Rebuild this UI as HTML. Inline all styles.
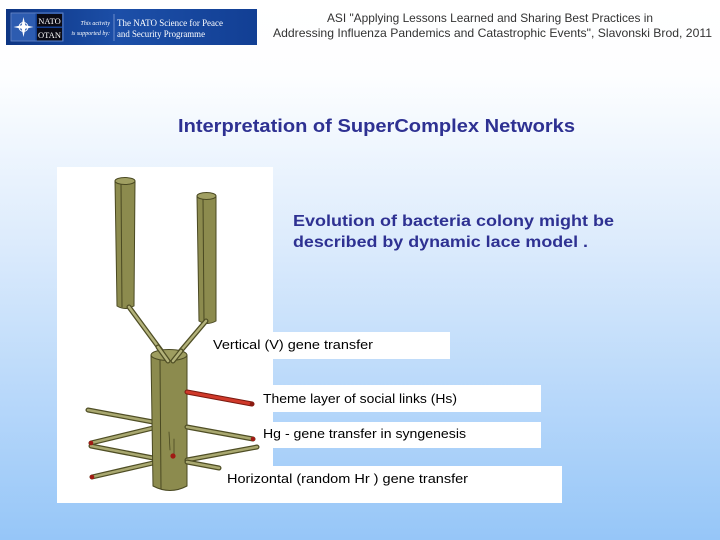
<!DOCTYPE html>
<html><head><meta charset="utf-8"><style>
html,body{margin:0;padding:0;width:720px;height:540px;overflow:hidden;}
svg{display:block;}
</style></head><body>
<svg width="720" height="540" viewBox="0 0 720 540" xmlns="http://www.w3.org/2000/svg">
<defs>
<linearGradient id="bg" x1="0" y1="0" x2="0" y2="1">
<stop offset="0" stop-color="#ffffff"/>
<stop offset="0.14" stop-color="#fdfeff"/>
<stop offset="0.45" stop-color="#dcebfc"/>
<stop offset="1" stop-color="#96c6f8"/>
</linearGradient>
<linearGradient id="ban" x1="0" y1="0" x2="1" y2="0">
<stop offset="0" stop-color="#0d3583"/>
<stop offset="0.45" stop-color="#1c4fa8"/>
<stop offset="1" stop-color="#123f94"/>
</linearGradient>
</defs>
<rect x="0" y="0" width="720" height="540" fill="url(#bg)"/>

<!-- NATO banner -->
<rect x="6" y="9" width="251" height="36" fill="url(#ban)"/>
<rect x="11" y="13" width="52" height="28" fill="none" stroke="#6f8fcf" stroke-width="0.8"/>
<rect x="11.5" y="13.5" width="24" height="27" fill="#2d5cb0"/>
<g transform="translate(23.5,27)" fill="#ffffff">
<polygon points="0,-10 1.8,-1.8 10,0 1.8,1.8 0,10 -1.8,1.8 -10,0 -1.8,-1.8"/>
<circle cx="0" cy="0" r="4.5" fill="none" stroke="#ffffff" stroke-width="1"/>
</g>
<rect x="37" y="14" width="25" height="12.5" fill="#0a0a14"/>
<rect x="37" y="28" width="25" height="12.5" fill="#0a0a14"/>
<text x="49.5" y="24" font-family="Liberation Serif, serif" font-size="8.5" fill="#ffffff" text-anchor="middle">NATO</text>
<text x="49.5" y="38" font-family="Liberation Serif, serif" font-size="8.5" fill="#ffffff" text-anchor="middle">OTAN</text>
<text x="110" y="25" font-family="Liberation Serif, serif" font-size="6" font-style="italic" fill="#ffffff" text-anchor="end">This activity</text>
<text x="110" y="35" font-family="Liberation Serif, serif" font-size="6" font-style="italic" fill="#ffffff" text-anchor="end">is supported by:</text>
<line x1="114" y1="14" x2="114" y2="41" stroke="#8fa8dc" stroke-width="0.7"/>
<text x="117" y="26" font-family="Liberation Serif, serif" font-size="9.5" fill="#ffffff" textLength="106" lengthAdjust="spacingAndGlyphs">The NATO Science for Peace</text>
<text x="117" y="37" font-family="Liberation Serif, serif" font-size="9.5" fill="#ffffff" textLength="88" lengthAdjust="spacingAndGlyphs">and Security Programme</text>

<!-- header text -->
<text x="327" y="22" font-family="Liberation Sans, sans-serif" font-size="12" fill="#333333" textLength="326" lengthAdjust="spacingAndGlyphs">ASI "Applying Lessons Learned and Sharing Best Practices in</text>
<text x="273" y="37" font-family="Liberation Sans, sans-serif" font-size="12" fill="#333333" textLength="439" lengthAdjust="spacingAndGlyphs">Addressing Influenza Pandemics and Catastrophic Events",  Slavonski Brod, 2011</text>

<!-- title -->
<text x="178" y="132" font-family="Liberation Sans, sans-serif" font-size="18" font-weight="bold" fill="#2e3192" textLength="397" lengthAdjust="spacingAndGlyphs">Interpretation of SuperComplex Networks</text>
<text x="293" y="226" font-family="Liberation Sans, sans-serif" font-size="16" font-weight="bold" fill="#2e3192" textLength="321" lengthAdjust="spacingAndGlyphs">Evolution of bacteria colony might be</text>
<text x="293" y="247" font-family="Liberation Sans, sans-serif" font-size="16" font-weight="bold" fill="#2e3192" textLength="295" lengthAdjust="spacingAndGlyphs">described by dynamic lace model .</text>

<!-- image panel -->
<rect x="57" y="167" width="216" height="336" fill="#ffffff"/>

<!-- label boxes -->
<rect x="270" y="332" width="180" height="27" fill="#ffffff"/>
<rect x="270" y="385" width="271" height="27" fill="#ffffff"/>
<rect x="270" y="422" width="271" height="26" fill="#ffffff"/>
<rect x="270" y="466" width="292" height="37" fill="#ffffff"/>

<g font-family="Liberation Sans, sans-serif" font-size="13" fill="#000000">
<text x="213" y="349" textLength="160" lengthAdjust="spacingAndGlyphs">Vertical  (V) gene transfer</text>
<text x="263" y="403" textLength="194" lengthAdjust="spacingAndGlyphs">Theme layer of social links (Hs)</text>
<text x="263" y="438" textLength="203" lengthAdjust="spacingAndGlyphs">Hg - gene transfer in syngenesis</text>
<text x="227" y="483" textLength="241" lengthAdjust="spacingAndGlyphs">Horizontal  (random  Hr ) gene transfer</text>
</g>

<!-- drawing -->
<g stroke-linecap="round">
<!-- left tall cylinder -->
<path d="M115,181 L117,306 Q125,311 134,306 L135,181 Z" fill="#8c8b4e" stroke="#4a4922" stroke-width="1"/>
<line x1="121" y1="183" x2="122" y2="307" stroke="#4a4922" stroke-width="1"/>
<ellipse cx="125" cy="181" rx="10" ry="3.5" fill="#a09f62" stroke="#4a4922" stroke-width="1"/>
<!-- right tall cylinder -->
<path d="M197,196 L199,321 Q207,326 216,321 L216,196 Z" fill="#8c8b4e" stroke="#4a4922" stroke-width="1"/>
<line x1="203" y1="198" x2="204" y2="322" stroke="#4a4922" stroke-width="1"/>
<ellipse cx="206.5" cy="196" rx="9.5" ry="3.5" fill="#a09f62" stroke="#4a4922" stroke-width="1"/>

<!-- V rods -->
<line x1="129" y1="307" x2="168" y2="360" stroke="#4f4e25" stroke-width="5"/>
<line x1="129" y1="307" x2="168" y2="360" stroke="#b3b27a" stroke-width="2.5"/>
<line x1="206" y1="321" x2="173" y2="360" stroke="#4f4e25" stroke-width="5"/>
<line x1="206" y1="321" x2="173" y2="360" stroke="#b3b27a" stroke-width="2.5"/>

<!-- left rods -->
<g>
<line x1="88" y1="410" x2="153" y2="422" stroke="#4f4e25" stroke-width="5"/>
<line x1="88" y1="410" x2="153" y2="422" stroke="#a9a870" stroke-width="2.5"/>
<line x1="91" y1="443" x2="153" y2="428" stroke="#4f4e25" stroke-width="5"/>
<line x1="91" y1="443" x2="153" y2="428" stroke="#a9a870" stroke-width="2.5"/>
<line x1="91" y1="446" x2="153" y2="458" stroke="#4f4e25" stroke-width="5"/>
<line x1="91" y1="446" x2="153" y2="458" stroke="#a9a870" stroke-width="2.5"/>
<line x1="92" y1="477" x2="153" y2="463" stroke="#4f4e25" stroke-width="5"/>
<line x1="92" y1="477" x2="153" y2="463" stroke="#a9a870" stroke-width="2.5"/>
</g>
<circle cx="91" cy="443" r="2.3" fill="#a01a14"/>
<circle cx="92" cy="477" r="2.3" fill="#a01a14"/>

<!-- trunk -->
<path d="M151,355 L153,486 Q170,495 187,486 L187,355 Z" fill="#8c8b4e" stroke="#4a4922" stroke-width="1"/>
<line x1="160" y1="359" x2="161" y2="489" stroke="#4a4922" stroke-width="1"/>
<ellipse cx="169" cy="355" rx="18" ry="5.5" fill="#9e9d60" stroke="#4a4922" stroke-width="1"/>
<line x1="169" y1="432" x2="170" y2="450" stroke="#4a4922" stroke-width="0.8"/>
<line x1="174" y1="439" x2="174" y2="455" stroke="#4a4922" stroke-width="0.8"/>
<circle cx="173" cy="456" r="2.6" fill="#a01a14"/>

<!-- V rods tips over trunk top -->
<line x1="158" y1="347" x2="168" y2="361" stroke="#4f4e25" stroke-width="5"/>
<line x1="158" y1="347" x2="168" y2="361" stroke="#b3b27a" stroke-width="2.5"/>
<line x1="181" y1="351" x2="173" y2="361" stroke="#4f4e25" stroke-width="5"/>
<line x1="181" y1="351" x2="173" y2="361" stroke="#b3b27a" stroke-width="2.5"/>

<!-- right rods -->
<line x1="187" y1="392" x2="252" y2="404" stroke="#7a1a10" stroke-width="5"/>
<line x1="187" y1="392" x2="252" y2="404" stroke="#d0392a" stroke-width="3"/>
<circle cx="252" cy="404" r="2.3" fill="#8b1a10"/>
<line x1="187" y1="427" x2="253" y2="439" stroke="#4f4e25" stroke-width="5"/>
<line x1="187" y1="427" x2="253" y2="439" stroke="#a9a870" stroke-width="2.5"/>
<circle cx="253" cy="439" r="2.3" fill="#a01a14"/>
<line x1="187" y1="460" x2="257" y2="447" stroke="#4f4e25" stroke-width="5"/>
<line x1="187" y1="460" x2="257" y2="447" stroke="#a9a870" stroke-width="2.5"/>
<line x1="187" y1="462" x2="219" y2="468" stroke="#4f4e25" stroke-width="5"/>
<line x1="187" y1="462" x2="219" y2="468" stroke="#a9a870" stroke-width="2.5"/>
</g>
</svg>
</body></html>
